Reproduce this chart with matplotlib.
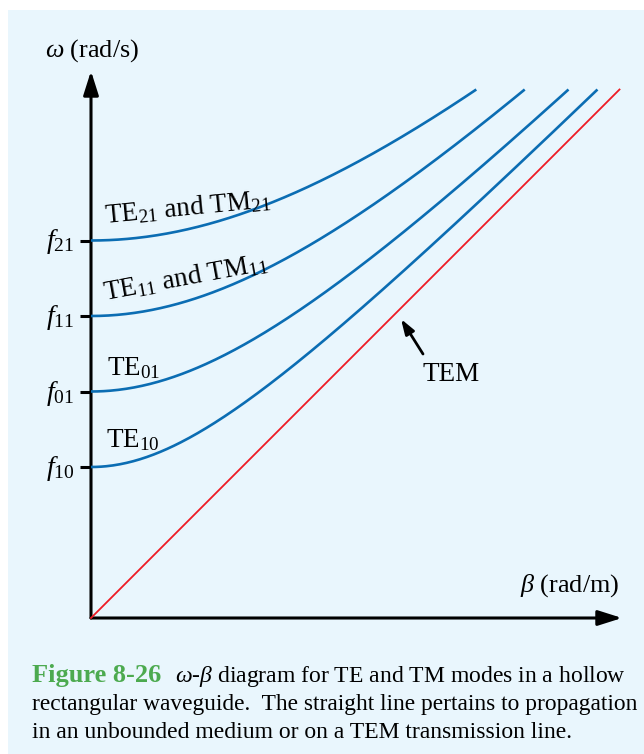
import numpy as np
import matplotlib
matplotlib.use("Agg")
import matplotlib.pyplot as plt
from matplotlib.patches import Rectangle

# cutoff frequencies of the modes (in units of f10/2) and the top of the plot
modes = ["TE$_{10}$", "TE$_{01}$", "TE$_{11}$ and TM$_{11}$", "TE$_{21}$ and TM$_{21}$"]
cutoffs = [2.0, 3.0, 4.0, 5.0]
# slope of each curve far above cutoff (TEM line = 1)
slopes = [1.0, 1.0, 1.0, 0.96]
tick_labels = ["$f_{10}$", "$f_{01}$", "$f_{11}$", "$f_{21}$"]
omega_max = 7.0

plt.rcParams["font.family"] = ["Liberation Serif", "DejaVu Serif"]
plt.rcParams["mathtext.fontset"] = "custom"
plt.rcParams["mathtext.rm"] = "Liberation Serif"
plt.rcParams["mathtext.it"] = "Liberation Serif:italic"

BG = "#e9f6fd"
BLUE = "#0b6db3"
RED = "#ee1c25"
GREEN = "#4caa4f"

W, H = 644, 754
U = 75.5            # pixels per unit
OX, OY = 91, 618    # origin in pixels


def px(x, y):
    """pixel position -> data coordinates"""
    return (x - OX) / U, (OY - y) / U


fig = plt.figure(figsize=(W / 100, H / 100), dpi=100, facecolor="white")
fig.patches.append(Rectangle((8 / W, 0), 1, (H - 10) / H, transform=fig.transFigure,
                             facecolor=BG, edgecolor="none", zorder=-5))

ax = fig.add_axes([0, 0, 1, 1])
ax.set_xlim(-OX / U, (W - OX) / U)
ax.set_ylim(-(H - OY) / U, OY / U)
ax.axis("off")
ax.patch.set_visible(False)

# axes with arrows
head = "-|>,head_length=1.45,head_width=0.46"
ax.annotate("", xy=px(622, OY), xytext=(0, 0),
            arrowprops=dict(arrowstyle=head, lw=2.2, color="black", shrinkA=0, shrinkB=0))
ax.annotate("", xy=px(OX, 71), xytext=(0, 0),
            arrowprops=dict(arrowstyle=head, lw=2.2, color="black", shrinkA=0, shrinkB=0))

# TEM line
beta = np.linspace(0, omega_max, 300)
ax.plot(beta, beta, color=RED, lw=1.3, zorder=3)

# mode curves: omega = sqrt(wc^2 + (k*beta)^2)
for wc, k in zip(cutoffs, slopes):
    b = np.linspace(0, np.sqrt(omega_max**2 - wc**2) / k, 300)
    ax.plot(b, np.sqrt(wc**2 + (k * b)**2), color=BLUE, lw=1.9, solid_capstyle="butt", zorder=3)

# ticks and tick labels
for wc, lab in zip(cutoffs, tick_labels):
    ax.plot([-11 / U, 0], [wc, wc], color="black", lw=2.2, solid_capstyle="butt")
    ax.text(-17 / U, wc - 8 / U, lab, ha="right", va="baseline", fontsize=20)

# mode labels
label_pos = [(106, 447, 0), (107, 375, 0), (105, 300, 10.5), (105, 223, 5.5)]
for name, (lx, ly, rot) in zip(modes, label_pos):
    ax.text(*px(lx, ly), name, ha="left", va="baseline", fontsize=19.5,
            rotation=rot, rotation_mode="anchor")

# TEM annotation
ax.annotate("", xy=px(401, 319), xytext=px(423, 354),
            arrowprops=dict(arrowstyle="-|>,head_length=0.9,head_width=0.3", lw=2,
                            color="black", shrinkA=0, shrinkB=0))
ax.text(*px(422, 381), "TEM", ha="left", va="baseline", fontsize=19.5)

# axis labels
ax.text(*px(45, 57), r"$\omega$ (rad/s)", ha="left", va="baseline", fontsize=18.8)
ax.text(*px(520, 592), r"$\beta$ (rad/m)", ha="left", va="baseline", fontsize=18.8)

# caption
fig.text(32 / W, 1 - 682 / H, "Figure 8-26", color=GREEN, fontweight="bold", fontsize=19,
         ha="left", va="baseline")
fig.text(175 / W, 1 - 682 / H, r"$\omega$-$\beta$ diagram for TE and TM modes in a hollow",
         fontsize=17, ha="left", va="baseline")
fig.text(32 / W, 1 - 710 / H, "rectangular waveguide.  The straight line pertains to propagation",
         fontsize=16.8, ha="left", va="baseline")
fig.text(32 / W, 1 - 738 / H, "in an unbounded medium or on a TEM transmission line.",
         fontsize=17, ha="left", va="baseline")

fig.savefig("out.png", dpi=100, facecolor=fig.get_facecolor())
